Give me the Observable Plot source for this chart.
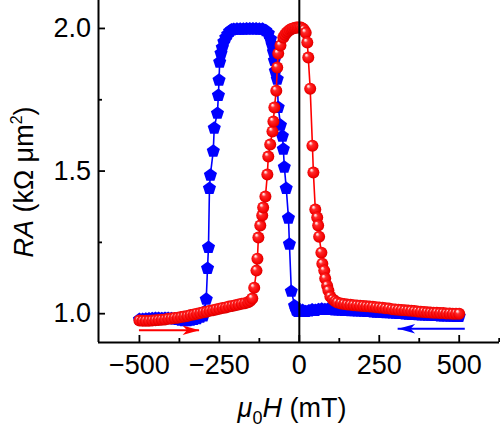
<!DOCTYPE html>
<html>
<head>
<meta charset="utf-8">
<script src="https://cdn.jsdelivr.net/npm/d3@7"></script>
<script src="https://cdn.jsdelivr.net/npm/@observablehq/plot@0.6"></script>
<style>
  body { margin: 0; background: #fff; }
  #chart { width: 500px; height: 431px; }
</style>
</head>
<body>
<svg width="0" height="0" style="position:absolute">
  <defs>
    <radialGradient id="ball" cx="50%" cy="50%" r="55%" fx="32%" fy="27%">
      <stop offset="0%" stop-color="#ffffff"/>
      <stop offset="12%" stop-color="#ffc8c8"/>
      <stop offset="32%" stop-color="#ff2a2a"/>
      <stop offset="80%" stop-color="#f40000"/>
      <stop offset="100%" stop-color="#c00000"/>
    </radialGradient>
  </defs>
</svg>
<div id="chart"></div>
<script>
// ---- Data ----
// Blue: field swept from +500 down to -500 mT (pentagons)
const blueH = [500,490,480,470,460,450,440,430,420,410,400,390,380,370,360,350,340,330,320,310,300,290,280,270,260,250,240,230,220,210,200,190,180,170,160,150,140,130,120,110,100,90,80,70,60,50,40,30,20,10,0,-5,-10,-15,
  -25,-31,-34,-41,-47,-50,-53,-59,-66,-69,-75,-78,-81,-85,-90,-97,-105,-115,-125,-135,-145,-155,-165,-175,-185,-195,-205,-212,-218,-224,-230,-236,-241,-245,-249,
  -251,-253,-256,-266,-269,-278,-281,-284,-287,-291,-296,-300,-310,-320,-330,-340,-350,-360,-370,-380,-390,-400,-410,-420,-430,-440,-450,-460,-470,-480,-490,-500];
const blueRA = [0.993,0.993,0.994,0.994,0.995,0.995,0.995,0.996,0.996,0.997,0.997,0.998,0.998,0.999,1.0,1.0,1.001,1.002,1.003,1.003,1.004,1.005,1.006,1.006,1.007,1.008,1.008,1.009,1.01,1.01,1.011,1.012,1.012,1.013,1.013,1.014,1.014,1.015,1.016,1.016,1.017,1.018,1.017,1.018,1.017,1.014,1.016,1.012,1.01,1.014,1.012,1.01,1.015,1.03,
  1.081,1.246,1.337,1.442,1.516,1.579,1.625,1.663,1.726,1.825,1.853,1.89,1.92,1.945,1.965,1.985,1.995,2.0,2.0,2.001,2.001,2.001,2.001,2.0,2.0,2.0,1.999,1.997,1.992,1.982,1.97,1.955,1.935,1.915,1.884,
  1.821,1.768,1.705,1.653,1.572,1.488,1.442,1.235,1.161,1.053,1.01,0.995,0.99,0.985,0.982,0.98,0.978,0.978,0.98,0.982,0.984,0.985,0.986,0.986,0.985,0.986,0.986,0.985,0.984,0.983,0.982,0.982];

// Red: field swept from -500 up to +500 mT (spheres)
const redH = [-500,-490,-480,-470,-460,-450,-440,-430,-420,-410,-400,-390,-380,-370,-360,-350,-340,-330,-320,-310,-300,-290,-280,-270,-260,-250,-240,-230,-220,-210,-200,-190,-180,-170,-160,-153,
  -147,-141,-134,-131,-128,-122,-116,-113,-106,-100,-97,-91,-84,-81,-78,-72,-69,-66,-59,-50,-45,-40,-35,-30,-25,-20,-15,-10,-5,0,5,10,15,20,
  25,28,34,41,44,50,56,59,62,69,72,78,81,87,91,97,105,112,119,130,140,150,160,170,180,190,200,210,220,230,240,250,260,270,280,290,300,310,320,330,340,350,360,370,380,390,400,410,420,430,440,450,460,470,480,490,500];
const redRA = [0.976,0.975,0.975,0.975,0.976,0.977,0.978,0.979,0.98,0.982,0.983,0.985,0.986,0.988,0.99,0.992,0.995,0.997,1.0,1.002,1.005,1.007,1.01,1.012,1.015,1.017,1.02,1.022,1.025,1.027,1.03,1.032,1.035,1.037,1.04,1.045,
  1.053,1.091,1.151,1.193,1.267,1.309,1.344,1.372,1.411,1.488,1.551,1.593,1.639,1.674,1.723,1.782,1.863,1.912,1.94,1.968,1.978,1.985,1.99,1.995,1.998,2.0,2.002,2.003,2.003,2.003,2.003,2.0,1.995,1.985,
  1.951,1.898,1.789,1.589,1.495,1.365,1.337,1.309,1.27,1.214,1.175,1.151,1.123,1.098,1.081,1.06,1.05,1.044,1.039,1.036,1.034,1.032,1.031,1.03,1.029,1.028,1.027,1.026,1.025,1.024,1.023,1.022,1.021,1.019,1.018,1.016,1.015,1.014,1.013,1.012,1.011,1.01,1.009,1.008,1.007,1.006,1.005,1.004,1.003,1.003,1.002,1.002,1.001,1.001,1.0,1.0,1.0];

// Sweep-direction arrows (start field, end field, level)
const redArrowX = [-500, -312];
const redArrowY = 0.942;
const blueArrowX = [519, 309];
const blueArrowY = 0.947;

// Axes
const xDomain = [-628, 626];
const yDomain = [0.899, 2.098];
const xTicks = [-500, -250, 0, 250, 500];
const xMinorTicks = [-375, -125, 125, 375, 625];
const yTicks = [1.0, 1.5, 2.0];
const yMinorTicks = [1.25, 1.75];

// ---- Build ----
const blue = blueH.map((h, i) => ({h, ra: blueRA[i]}));
const red = redH.map((h, i) => ({h, ra: redRA[i]}));
const redArrow = [{x1: redArrowX[0], x2: redArrowX[1], y: redArrowY}];
const blueArrow = [{x1: blueArrowX[0], x2: blueArrowX[1], y: blueArrowY}];

const pentagon = {
  draw(ctx, size) {
    const R = Math.sqrt(size / Math.PI) * 1.15;
    for (let i = 0; i < 5; i++) {
      const a = -Math.PI / 2 + i * 2 * Math.PI / 5;
      const x = R * Math.cos(a), y = R * Math.sin(a) + R * 0.1;
      if (i) ctx.lineTo(x, y); else ctx.moveTo(x, y);
    }
    ctx.closePath();
  }
};
const arrowHead = {
  draw(ctx) {
    ctx.moveTo(0, 0);
    ctx.lineTo(-17, -4.8);
    ctx.lineTo(-12.5, 0);
    ctx.lineTo(-17, 4.8);
    ctx.closePath();
  }
};

const FONT = "'Liberation Sans', Arial, Helvetica, sans-serif";

const chart = Plot.plot({
  width: 500,
  height: 431,
  marginLeft: 98,
  marginRight: 1,
  marginTop: 0,
  marginBottom: 89,
  style: {fontFamily: FONT, fontSize: "27px", color: "black", background: "white", overflow: "visible"},
  x: {domain: xDomain},
  y: {domain: yDomain},
  marks: [
    Plot.line(blue, {x: "h", y: "ra", stroke: "#0000ff", strokeWidth: 1.6}),
    Plot.dot(blue, {x: "h", y: "ra", symbol: pentagon, r: 6, fill: "#0000ff", stroke: "none"}),
    Plot.line(red, {x: "h", y: "ra", stroke: "#ff0000", strokeWidth: 1.6}),
    Plot.dot(red, {x: "h", y: "ra", r: 6, fill: "url(#ball)", stroke: "none"}),
    Plot.ruleX([0], {stroke: "black", strokeWidth: 2}),
    // arrows
    Plot.ruleY(redArrow, {x1: "x1", x2: "x2", y: "y", stroke: "#ff0000", strokeWidth: 2}),
    Plot.dot(redArrow, {x: "x2", y: "y", symbol: arrowHead, r: 5, fill: "#ff0000", stroke: "none"}),
    Plot.ruleY(blueArrow, {x1: "x1", x2: "x2", y: "y", stroke: "#0000ff", strokeWidth: 2}),
    Plot.dot(blueArrow, {x: "x2", y: "y", symbol: arrowHead, r: 5, rotate: 180, fill: "#0000ff", stroke: "none"}),
    // axes
    Plot.ruleX([xDomain[0]], {stroke: "black", strokeWidth: 2}),
    Plot.ruleY([yDomain[0]], {stroke: "black", strokeWidth: 2}),
    Plot.axisX({ticks: xTicks, tickSize: -7, tickPadding: 19, strokeWidth: 1.8, fontSize: 27, tickFormat: d => d < 0 ? "\u2212" + Math.abs(d) : String(d), label: null}),
    Plot.axisX({ticks: xMinorTicks, tickSize: -4, strokeWidth: 1.8, tickFormat: () => "", label: null}),
    Plot.axisY({ticks: yTicks, tickSize: -7, tickPadding: 14.5, strokeWidth: 1.8, fontSize: 27, tickFormat: d => d.toFixed(1), label: null}),
    Plot.axisY({ticks: yMinorTicks, tickSize: -4, strokeWidth: 1.8, tickFormat: () => "", label: null})
  ]
});

document.getElementById("chart").appendChild(chart);

const svg = d3.select(chart);

// Axis titles
const yl = svg.append("text")
  .attr("transform", "translate(33,182) rotate(-90)")
  .attr("text-anchor", "middle")
  .attr("font-family", FONT).attr("font-size", 27).attr("fill", "black");
yl.append("tspan").attr("font-style", "italic").text("RA");
yl.append("tspan").text(" (kΩ μm");
yl.append("tspan").attr("font-size", 16).attr("dy", -11).text("2");
yl.append("tspan").attr("dy", 11).text(")");

const xl = svg.append("text")
  .attr("x", 292).attr("y", 417)
  .attr("text-anchor", "middle")
  .attr("font-family", FONT).attr("font-size", 27).attr("fill", "black");
xl.append("tspan").attr("font-style", "italic").text("μ");
xl.append("tspan").attr("font-size", 18).attr("dy", 7).text("0");
xl.append("tspan").attr("font-style", "italic").attr("dy", -7).text("H");
xl.append("tspan").text(" (mT)");
</script>
</body>
</html>
